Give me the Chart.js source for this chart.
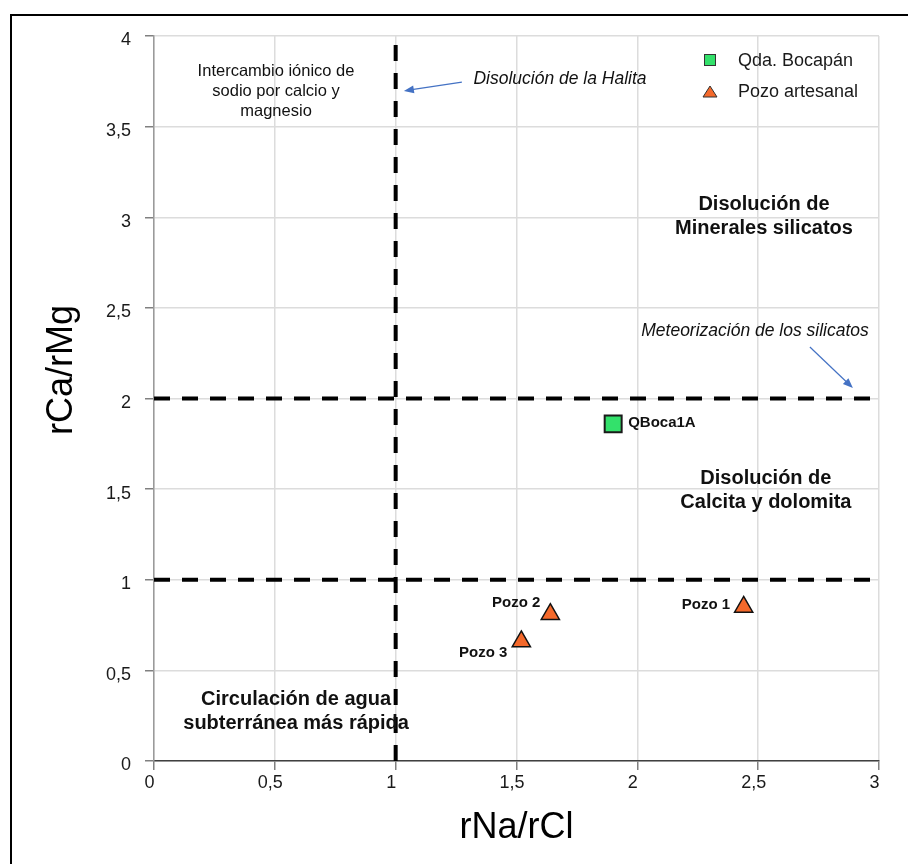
<!DOCTYPE html>
<html>
<head>
<meta charset="utf-8">
<script src="https://cdn.jsdelivr.net/npm/chart.js@4.4.0/dist/chart.umd.min.js"></script>
<style>
html,body{margin:0;padding:0;background:#fff;}
canvas{display:block;}
</style>
</head>
<body>
<canvas id="c" width="908" height="864"></canvas>
<script>
// ---------- data ----------
const xTickLabels = ['0', '0,5', '1', '1,5', '2', '2,5', '3'];
const yTickLabels = ['0', '0,5', '1', '1,5', '2', '2,5', '3', '3,5', '4'];
const xRange = [0, 3];
const yRange = [0, 4];
const seriesNames = ['Qda. Bocapán', 'Pozo artesanal'];
const bocapanNames = ['QBoca1A'];
const bocapanNaCl = [1.90];
const bocapanCaMg = [1.86];
const pozoNames = ['Pozo 1', 'Pozo 2', 'Pozo 3'];
const pozoNaCl = [2.44, 1.64, 1.52];
const pozoCaMg = [0.85, 0.81, 0.66];
const limitNaCl = [1];      // vertical boundary rNa/rCl = 1
const limitCaMg = [1, 2];   // horizontal boundaries rCa/rMg = 1 and 2
const xTitle = 'rNa/rCl';
const yTitle = 'rCa/rMg';
const zoneTexts = [
  ['Intercambio iónico de', 'sodio por calcio y', 'magnesio'],
  ['Disolución de la Halita'],
  ['Disolución de', 'Minerales silicatos'],
  ['Meteorización de los silicatos'],
  ['Disolución de', 'Calcita y dolomita'],
  ['Circulación de agua', 'subterránea más rápida']
];

// ---------- styling / placement ----------
const FONT = '"Liberation Sans", Arial, Helvetica, sans-serif';
const GREEN = '#33e16b';
const ORANGE = '#f4692b';
const ARROW = '#4472c4';
// positions of zone texts in data units (x centre, y of first line), with font and line spacing
const zoneStyle = [
  {x: 0.505, y: 3.807, font: '16.5px ' + FONT, lh: 20},
  {x: 1.680, y: 3.760, font: 'italic 17.5px ' + FONT, lh: 20},
  {x: 2.524, y: 3.068, font: 'bold 20px ' + FONT, lh: 24},
  {x: 2.487, y: 2.372, font: 'italic 17.5px ' + FONT, lh: 20},
  {x: 2.532, y: 1.561, font: 'bold 20px ' + FONT, lh: 24},
  {x: 0.588, y: 0.337, font: 'bold 20px ' + FONT, lh: 24}
];
const arrows = [
  {from: [1.274, 3.746], to: [1.034, 3.697]},
  {from: [2.714, 2.284], to: [2.892, 2.058]}
];
const bocaLabelOffsets = [{dx: 15, dy: -1, align: 'left'}];
const pozoLabelOffsets = [
  {dx: -13.5, dy: -2, align: 'right'},
  {dx: -10, dy: -11, align: 'right'},
  {dx: -14, dy: 11, align: 'right'}
];

const toPts = (xs, ys) => xs.map((x, i) => ({x: x, y: ys[i]}));

const datasets = [
  {
    label: seriesNames[0],
    data: toPts(bocapanNaCl, bocapanCaMg),
    pointStyle: 'rect', pointRadius: 12, pointHoverRadius: 12,
    backgroundColor: GREEN, borderColor: '#1a1a1a', borderWidth: 2,
    showLine: false
  },
  {
    label: seriesNames[1],
    data: toPts(pozoNaCl, pozoCaMg),
    pointStyle: 'triangle', pointRadius: 10.5, pointHoverRadius: 10.5,
    backgroundColor: ORANGE, borderColor: '#111', borderWidth: 1.5,
    showLine: false
  }
];
limitNaCl.forEach(v => datasets.push({
  label: '_limit', data: [{x: v, y: yRange[0]}, {x: v, y: yRange[1]}],
  showLine: true, borderColor: '#000', borderWidth: 4, borderDash: [16, 12],
  pointRadius: 0, fill: false, borderCapStyle: 'butt'
}));
limitCaMg.forEach(v => datasets.push({
  label: '_limit', data: [{x: xRange[0], y: v}, {x: xRange[1], y: v}],
  showLine: true, borderColor: '#000', borderWidth: 4, borderDash: [16, 12],
  pointRadius: 0, fill: false, borderCapStyle: 'butt'
}));

function arrowHead(ctx, x1, y1, x2, y2) {
  const ang = Math.atan2(y2 - y1, x2 - x1);
  const len = 10, w = 4;
  ctx.beginPath();
  ctx.moveTo(x2, y2);
  ctx.lineTo(x2 - len * Math.cos(ang) + w * Math.sin(ang), y2 - len * Math.sin(ang) - w * Math.cos(ang));
  ctx.lineTo(x2 - len * Math.cos(ang) - w * Math.sin(ang), y2 - len * Math.sin(ang) + w * Math.cos(ang));
  ctx.closePath();
  ctx.fill();
}

const decor = {
  id: 'decor',
  beforeDraw(chart) {
    const ctx = chart.ctx;
    ctx.save();
    ctx.fillStyle = '#fff';
    ctx.fillRect(0, 0, chart.width, chart.height);
    ctx.restore();
  },
  afterDatasetsDraw(chart) {
    const ctx = chart.ctx;
    const xs = chart.scales.x, ys = chart.scales.y;
    const ca = chart.chartArea;
    ctx.save();
    // zone texts
    ctx.fillStyle = '#111';
    ctx.textAlign = 'center';
    ctx.textBaseline = 'middle';
    zoneTexts.forEach((lines, i) => {
      const st = zoneStyle[i];
      ctx.font = st.font;
      const px = xs.getPixelForValue(st.x);
      const py = ys.getPixelForValue(st.y);
      lines.forEach((t, k) => ctx.fillText(t, px, py + k * st.lh));
    });
    // arrows
    ctx.strokeStyle = ARROW;
    ctx.fillStyle = ARROW;
    ctx.lineWidth = 1.2;
    arrows.forEach(a => {
      const x1 = xs.getPixelForValue(a.from[0]), y1 = ys.getPixelForValue(a.from[1]);
      const x2 = xs.getPixelForValue(a.to[0]), y2 = ys.getPixelForValue(a.to[1]);
      const ang = Math.atan2(y2 - y1, x2 - x1);
      ctx.beginPath();
      ctx.moveTo(x1, y1);
      ctx.lineTo(x2 - 8 * Math.cos(ang), y2 - 8 * Math.sin(ang));
      ctx.stroke();
      arrowHead(ctx, x1, y1, x2, y2);
    });
    // point labels
    ctx.fillStyle = '#111';
    ctx.font = 'bold 15px ' + FONT;
    const m0 = chart.getDatasetMeta(0), m1 = chart.getDatasetMeta(1);
    m0.data.forEach((el, i) => {
      const o = bocaLabelOffsets[i];
      ctx.textAlign = o.align;
      ctx.fillText(bocapanNames[i], el.x + o.dx, el.y + o.dy);
    });
    m1.data.forEach((el, i) => {
      const o = pozoLabelOffsets[i];
      ctx.textAlign = o.align;
      ctx.fillText(pozoNames[i], el.x + o.dx, el.y + o.dy);
    });
    // legend
    const lx = ca.right - 169, ly0 = ca.top + 24, ly1 = ca.top + 56;
    ctx.lineWidth = 1;
    ctx.strokeStyle = '#333';
    ctx.fillStyle = datasets[0].backgroundColor;
    ctx.fillRect(lx - 5.5, ly0 - 5.5, 11, 11);
    ctx.strokeRect(lx - 5.5, ly0 - 5.5, 11, 11);
    ctx.fillStyle = datasets[1].backgroundColor;
    ctx.beginPath();
    ctx.moveTo(lx, ly1 - 6);
    ctx.lineTo(lx + 7, ly1 + 5);
    ctx.lineTo(lx - 7, ly1 + 5);
    ctx.closePath();
    ctx.fill();
    ctx.stroke();
    ctx.fillStyle = '#1a1a1a';
    ctx.font = '18px ' + FONT;
    ctx.textAlign = 'left';
    ctx.fillText(datasets[0].label, lx + 28, ly0 + 1);
    ctx.fillText(datasets[1].label, lx + 28, ly1);
    // y axis title
    ctx.save();
    ctx.translate(62, ys.getPixelForValue(2.157));
    ctx.rotate(-Math.PI / 2);
    ctx.font = '36px ' + FONT;
    ctx.textAlign = 'center';
    ctx.fillStyle = '#000';
    ctx.fillText(yTitle, 0, 0);
    ctx.restore();
    ctx.restore();
  },
  afterDraw(chart) {
    const ctx = chart.ctx;
    ctx.save();
    ctx.strokeStyle = '#000';
    ctx.lineWidth = 2;
    ctx.strokeRect(11, 15, chart.width + 20, chart.height + 20);
    ctx.restore();
  }
};

Chart.defaults.font.family = FONT;

new Chart(document.getElementById('c'), {
  type: 'scatter',
  data: {datasets: datasets},
  options: {
    responsive: false,
    animation: false,
    events: [],
    layout: {padding: {left: 0, top: 36, right: 29, bottom: 0}},
    plugins: {legend: {display: false}, tooltip: {enabled: false}},
    scales: {
      x: {
        type: 'linear', min: xRange[0], max: xRange[1],
        afterFit(s) { s.height = 103; },
        ticks: {
          stepSize: 0.5, color: '#1a1a1a', font: {size: 18}, padding: 2, labelOffset: -4.5,
          callback: (v, i) => xTickLabels[i]
        },
        grid: {color: '#dcdcdc', lineWidth: 1.5, tickLength: 9, tickColor: '#808080', tickWidth: 1.5},
        border: {color: '#404040', width: 1.5},
        title: {display: true, text: xTitle, color: '#000', font: {size: 36}, padding: {top: 0, bottom: 14}}
      },
      y: {
        type: 'linear', min: yRange[0], max: yRange[1],
        afterFit(s) { s.width = 154; },
        ticks: {
          stepSize: 0.5, color: '#1a1a1a', font: {size: 18}, padding: 14, labelOffset: 4.5,
          callback: (v, i) => yTickLabels[i]
        },
        grid: {color: '#dcdcdc', lineWidth: 1.5, tickLength: 9, tickColor: '#808080', tickWidth: 1.5},
        border: {color: '#9a9a9a', width: 1.5}
      }
    }
  },
  plugins: [decor]
});
</script>
</body>
</html>
